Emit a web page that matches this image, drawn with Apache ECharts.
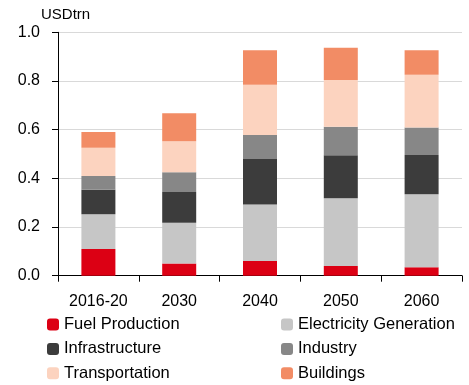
<!DOCTYPE html>
<html>
<head>
<meta charset="utf-8">
<script src="https://cdn.jsdelivr.net/npm/echarts@6/dist/echarts.min.js"></script>
<style>
  html, body { margin: 0; padding: 0; background: #ffffff; }
  #chart { width: 469px; height: 385px; }
</style>
</head>
<body>
<div id="chart"></div>
<script>
// Investment by sector, USD trillion
const categories = ['2016-20', '2030', '2040', '2050', '2060'];
const fuelProduction = [0.11, 0.05, 0.06, 0.04, 0.035];
const electricityGeneration = [0.142, 0.168, 0.233, 0.278, 0.300];
const infrastructure = [0.101, 0.126, 0.186, 0.177, 0.161];
const industry = [0.057, 0.081, 0.099, 0.117, 0.113];
const transportation = [0.116, 0.127, 0.207, 0.192, 0.217];
const buildings = [0.064, 0.115, 0.141, 0.133, 0.100];
const yTicks = { min: 0, max: 1, interval: 0.2 };

const FONT = '"Liberation Sans", Arial, sans-serif';

const seriesDefs = [
  { name: 'Fuel Production', data: fuelProduction, color: '#dc0014' },
  { name: 'Electricity Generation', data: electricityGeneration, color: '#c6c6c6' },
  { name: 'Infrastructure', data: infrastructure, color: '#3c3c3c' },
  { name: 'Industry', data: industry, color: '#878787' },
  { name: 'Transportation', data: transportation, color: '#fcd3bf' },
  { name: 'Buildings', data: buildings, color: '#f28c65' }
];

const legendBase = {
  orient: 'vertical',
  top: 316,
  itemWidth: 12,
  itemHeight: 12,
  itemGap: 7.4,
  icon: 'roundRect',
  padding: 0,
  textStyle: { fontFamily: FONT, fontSize: 16.5, color: '#000', lineHeight: 16 }
};

const chart = echarts.init(document.getElementById('chart'), null, { renderer: 'canvas' });
chart.setOption({
  animation: false,
  backgroundColor: '#ffffff',
  title: {
    text: 'USDtrn',
    left: 41,
    top: 7,
    padding: 0,
    textStyle: { fontFamily: FONT, fontSize: 15, fontWeight: 'normal', color: '#000' }
  },
  legend: [
    Object.assign({}, legendBase, { left: 47, data: ['Fuel Production', 'Infrastructure', 'Transportation'] }),
    Object.assign({}, legendBase, { left: 281, data: ['Electricity Generation', 'Industry', 'Buildings'] })
  ],
  grid: { left: 58, right: 7, top: 32.3, bottom: 109.3, containLabel: false },
  xAxis: {
    type: 'category',
    data: categories,
    boundaryGap: true,
    axisLine: { lineStyle: { color: '#000', width: 1 } },
    axisTick: { show: true, length: 6, alignWithLabel: false, lineStyle: { color: '#000' } },
    axisLabel: { margin: 18, fontFamily: FONT, fontSize: 16, color: '#000' },
    splitLine: { show: false }
  },
  yAxis: {
    type: 'value',
    min: yTicks.min,
    max: yTicks.max,
    interval: yTicks.interval,
    axisLine: { show: true, lineStyle: { color: '#000', width: 1 } },
    axisTick: { show: true, length: 6, lineStyle: { color: '#000' } },
    axisLabel: {
      margin: 18,
      fontFamily: FONT,
      fontSize: 16,
      color: '#000',
      formatter: v => v.toFixed(1)
    },
    splitLine: { show: true, lineStyle: { color: '#d9d9d9', width: 1 } }
  },
  series: seriesDefs.map(s => ({
    name: s.name,
    type: 'bar',
    stack: 'total',
    barWidth: 34,
    data: s.data,
    itemStyle: { color: s.color },
    emphasis: { disabled: true }
  }))
});
</script>
</body>
</html>
